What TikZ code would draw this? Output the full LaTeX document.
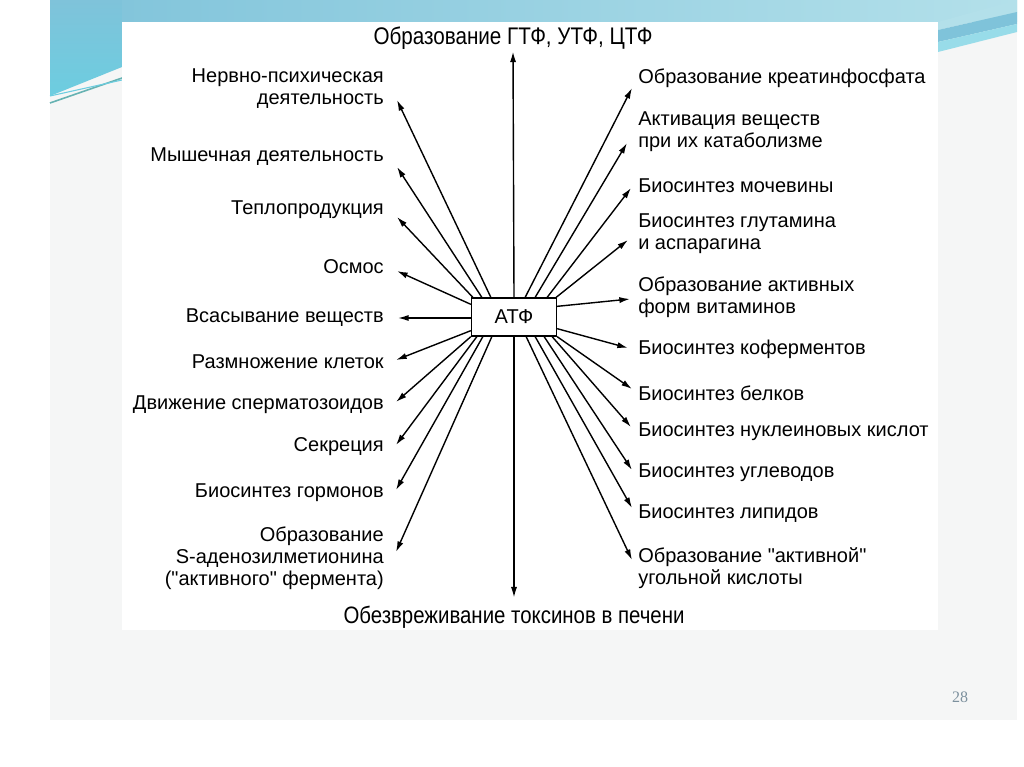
\documentclass[tikz,border=0pt]{standalone}
\usepackage{fontspec}
\setmainfont{Liberation Sans}
\newfontfamily\narrowfont{Liberation Sans}[FakeStretch=0.86]
\newfontfamily\numfont{Liberation Serif}
\usepackage{xcolor}
\usepackage{tikz}
\usetikzlibrary{arrows.meta}
\definecolor{slidebg}{HTML}{F5F6F6}
\definecolor{bandl}{HTML}{7FC3DA}
\definecolor{bandr}{HTML}{B3E0EA}
\definecolor{swoosh}{HTML}{6CCDE0}
\definecolor{pagenum}{HTML}{7D919E}
\tikzset{
  lbl/.style={font=\fontsize{15}{16.4}\selectfont,inner sep=0pt},
  ray/.style={line width=1.05pt,-{Latex[length=8pt,width=4.6pt]}},
  box/.style={draw,line width=1pt,minimum width=63.75pt,minimum height=28.5pt,inner sep=0pt,fill=white},
}
\newcommand{\pleft}[3]{\node[lbl,anchor=east,align=right] (#1) at (384,#2) {#3};}
\newcommand{\pright}[3]{\node[lbl,anchor=west,align=left] (#1) at (638,#2) {#3};}
\newcommand{\pray}[3]{\draw[ray] (#1) -- ([shift={(#3)}]#2);}
\newcommand{\qq}{\textquotedbl}

\begin{document}
\begin{tikzpicture}[x=0.75pt,y=-0.75pt]
    \useasboundingbox (0,0) rectangle (1024,767);
    \fill[white] (0,0) rectangle (1024,767);
    \fill[slidebg] (50,0) rectangle (1017,720);
    \shade[left color=bandl,right color=bandr] (50,0) rectangle (1017,22);
    \shade[top color=bandl,bottom color=swoosh] (50,0) -- (122,0) -- (122,67) -- (50,96) -- cycle;
    \draw[teal!60,line width=1.2pt] (50,103) -- (122,78);
    \draw[swoosh,line width=0.8pt] (50,96) -- (122,80);
    \fill[bandr] (938,22) -- (1017,0) -- (1017,12) -- (938,30) -- cycle;
    \fill[bandl] (938,30) -- (1017,12) -- (1017,24) -- (938,42) -- cycle;
    \fill[swoosh!70] (938,42) -- (1017,24) -- (1017,32) -- (938,52) -- cycle;
    \fill[white] (122,22) rectangle (938,630);
    \node[font=\numfont\fontsize{12}{14}\selectfont,text=pagenum] (pg) at (960,697) {28};

    \node[box,font=\fontsize{15}{16}\selectfont] (atf) at (514,317) {АТФ};
    \node[lbl,font=\narrowfont\fontsize{18}{20}\selectfont] (gtf) at (513,38) {Образование ГТФ, УТФ, ЦТФ};
    \node[lbl,font=\narrowfont\fontsize{17.8}{20}\selectfont] (tox) at (514,617) {Обезвреживание токсинов в печени};
    \draw[ray] (atf.north) -- ([shift={(0,2)}]gtf.south);
    \draw[ray] (atf.south) -- ([shift={(0,-8)}]tox.north);

    \pleft{nerv}{89}{Нервно-психическая\\деятельность}
    \pleft{mysh}{157}{Мышечная деятельность}
    \pleft{tepl}{210}{Теплопродукция}
    \pleft{osm}{267}{Осмос}
    \pleft{vsas}{318}{Всасывание веществ}
    \pleft{razm}{362}{Размножение клеток}
    \pleft{dvizh}{405}{Движение сперматозоидов}
    \pleft{sekr}{447}{Секреция}
    \pleft{gorm}{493}{Биосинтез гормонов}
    \pleft{sadm}{558}{Образование\\S-аденозилметионина\\(\qq активного\qq{} фермента)}

    \pright{kreat}{78}{Образование креатинфосфата}
    \pright{aktiv}{132}{Активация веществ\\при их катаболизме}
    \pright{moch}{186}{Биосинтез мочевины}
    \pright{glut}{234}{Биосинтез глутамина\\и аспарагина}
    \pright{vitam}{297}{Образование активных\\форм витаминов}
    \pright{koferm}{349}{Биосинтез коферментов}
    \pright{belk}{393}{Биосинтез белков}
    \pright{nukl}{432}{Биосинтез нуклеиновых кислот}
    \pright{uglev}{473}{Биосинтез углеводов}
    \pright{lipid}{514}{Биосинтез липидов}
    \pright{ugol}{568}{Образование \qq активной\qq\\угольной кислоты}

    \pray{[shift={(20,0)}]atf.north west}{nerv.east}{13,11}
    \pray{[shift={(11,0)}]atf.north west}{mysh.east}{13,10}
    \pray{[shift={(2,0)}]atf.north west}{tepl.east}{13,7}
    \pray{[shift={(0,7)}]atf.north west}{osm.east}{13,4}
    \pray{[shift={(0,1)}]atf.west}{vsas.east}{14,0}
    \pray{[shift={(0,-6)}]atf.south west}{razm.east}{12,-2}
    \pray{atf.south west}{dvizh.east}{12,-3}
    \pray{[shift={(6,0)}]atf.south west}{sekr.east}{12,-2}
    \pray{[shift={(12,0)}]atf.south west}{gorm.east}{12,-3}
    \pray{[shift={(21,0)}]atf.south west}{sadm.east}{12,-6}

    \pray{[shift={(-32,0)}]atf.north east}{kreat.west}{-6,10}
    \pray{[shift={(-22,0)}]atf.north east}{aktiv.west}{-11,11}
    \pray{[shift={(-10,0)}]atf.north east}{moch.west}{-7,2}
    \pray{[shift={(-1,0)}]atf.north east}{glut.west}{-10,6}
    \pray{[shift={(0,9)}]atf.north east}{vitam.west}{-8,2}
    \pray{[shift={(0,-8)}]atf.south east}{koferm.west}{-10,-1}
    \pray{atf.south east}{belk.west}{-6,-4}
    \pray{[shift={(-5,0)}]atf.south east}{nukl.west}{-7,-5}
    \pray{[shift={(-13,0)}]atf.south east}{uglev.west}{-6,-3}
    \pray{[shift={(-22,0)}]atf.south east}{lipid.west}{-6,-6}
    \pray{[shift={(-31,0)}]atf.south east}{ugol.west}{-6,-8}
  \end{tikzpicture}
\end{document}
